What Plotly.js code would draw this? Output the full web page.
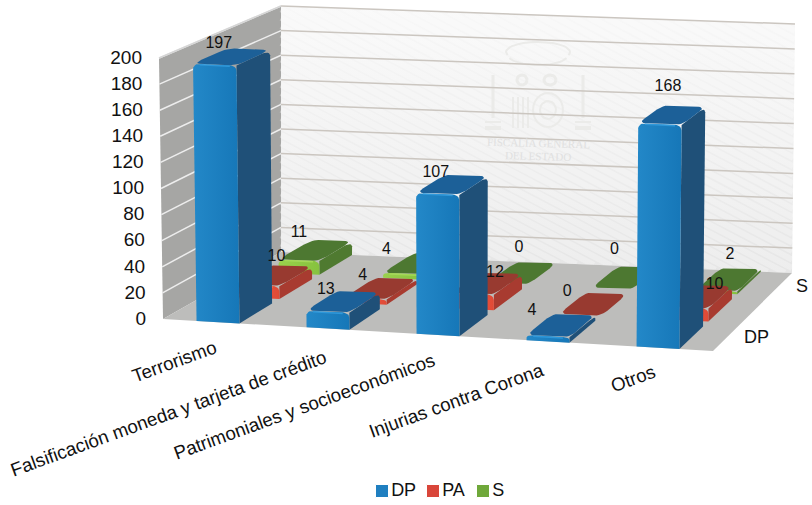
<!DOCTYPE html>
<html><head><meta charset="utf-8">
<script src="https://cdn.plot.ly/plotly-3.0.1.min.js"></script>
<style>html,body{margin:0;padding:0;background:#fff}#c{width:812px;height:505px}</style>
</head><body><div id="c"></div>
<script>
const categories=["Terrorismo","Falsificación moneda y tarjeta de crédito","Patrimoniales y socioeconómicos","Injurias contra Corona","Otros"];
const DP=[197,13,107,4,168];
const PA=[10,4,12,0,10];
const S=[11,4,0,0,2];
const yTicks=[0,20,40,60,80,100,120,140,160,180,200];
const seriesNames=["DP","PA","S"];
const axisMax=200;

const box={fl0:[163,319],fl1:[159,58],bl0:[281,252],bl1:[281,6],fr0:[713,351],fr1:[716,84],br0:[792,273],br1:[795,24]};
function P(u,w,v){
  const lerp=(a,b,t)=>[a[0]+(b[0]-a[0])*t,a[1]+(b[1]-a[1])*t];
  const f0=lerp(box.fl0,box.fr0,u),f1=lerp(box.fl1,box.fr1,u),b0=lerp(box.bl0,box.br0,u),b1=lerp(box.bl1,box.br1,u);
  return lerp(lerp(f0,b0,w),lerp(f1,b1,w),v);
}
const traces=[];
function poly(pts,o){
  traces.push(Object.assign({type:'scatter',mode:'lines',x:pts.map(p=>p[0]),y:pts.map(p=>p[1]),fill:'toself',
    line:{width:0},hoverinfo:'skip',showlegend:false},o));
}
function line(a,b,color,width){
  traces.push({type:'scatter',mode:'lines',x:[a[0],b[0]],y:[a[1],b[1]],line:{color:color,width:width},hoverinfo:'skip',showlegend:false});
}
const g=(type,a,b)=>({fillgradient:{type:type,colorscale:[[0,a],[1,b]]}});
poly([P(0,0,0),P(0,1,0),P(0,1,1),P(0,0,1),P(0,0,0)],{fillcolor:'#a6a6a4'});
poly([P(0,1,0),P(1,1,0),P(1,1,1),P(0,1,1),P(0,1,0)],g('vertical','#e6e6e6','#f8f8f8'));

// faint diagonal texture of the back wall
(function(){
  const xs=[],ys=[];
  for(let c=-1;c<1;c+=0.034){
    const u0=Math.max(0,c),u1=Math.min(1,c+1);
    const a=P(u0,1,1-(u0-c)),b=P(u1,1,1-(u1-c));
    xs.push(a[0],b[0],null);ys.push(a[1],b[1],null);
  }
  traces.push({type:'scatter',mode:'lines',x:xs,y:ys,line:{color:'rgba(255,255,255,0.3)',width:6},hoverinfo:'skip',showlegend:false});
})();

// faint emblem watermark
function ring(cx,cy,rx,ry,a0,a1,col,wd){
  const x=[],y=[];
  for(let i=0;i<=24;i++){const a=a0+(a1-a0)*i/24;x.push(cx+rx*Math.cos(a));y.push(cy+ry*Math.sin(a));}
  traces.push({type:'scatter',mode:'lines',x:x,y:y,line:{color:col,width:wd},hoverinfo:'skip',showlegend:false});
}
const wm='#ebebe9';
ring(538,52,32,10,Math.PI*0.9,Math.PI*2.1,wm,2);
ring(538,55,30,10,Math.PI*0.1,Math.PI*0.9,wm,2);
ring(522,80,5,5,0,Math.PI*2,wm,3);
ring(550,80,6,5,0,Math.PI*2,wm,3);
ring(548,110,15,17,0,Math.PI*2,wm,2);
ring(548,110,8,9,0,Math.PI*2,wm,2);
[513,518,523,528].forEach(x=>line([x,97],[x,128],wm,2));
[493,583].forEach(x=>{line([x,75],[x,118],wm,3);line([x-8,128],[x+8,128],wm,4);line([x-8,122],[x+8,122],wm,2);});

poly([P(0,0,0),P(1,0,0),P(1,1,0),P(0,1,0),P(0,0,0)],{fillcolor:'#bdbdbb'});
yTicks.slice(1).forEach(t=>{
  const v=t/axisMax;
  line(P(0,0,v),P(0,1,v),'#ededed',1.5);
  line(P(0,1,v),P(1,1,v),'#cbc6c0',1.5);
});
line(P(0,0,1),P(0,1,1),'#d5d5d5',1.5);

const palette={
  DP:{front:['#2388c8','#1677b8'],side:'#1f5078',top:'#1c6098',edge:'#2f98da'},
  PA:{front:['#f4604a','#e04a36'],side:'#a83b30',top:'#983a30',edge:'#f46a50'},
  S:{front:['#9ad14c','#86c23e'],side:'#4f7a30',top:'#4d7831',edge:'#a4d858'}
};
const slotW=1/categories.length, barW=0.39*slotW, depthSlot=0.355, barD=0.29;
function arc(map,cx,cy,rx,ry,a0,a1,out){
  for(let i=0;i<=6;i++){const a=a0+(a1-a0)*i/6;out.push(map(cx+rx*Math.cos(a),cy+ry*Math.sin(a)));}
}
function drawBar(ci,si,val,pal){
  const uc=(ci+0.5)*slotW,u0=uc-barW/2,u1=uc+barW/2;
  const w0=si*depthSlot,w1=w0+barD,v=val/axisMax;
  const ru=0.012,rw=0.07,rv=Math.min(0.02,v/2);
  const H=Math.PI/2;
  let s=[];
  s.push(P(u1,w0,0),P(u1,w1,0));
  arc((w,vv)=>P(u1,w,vv),w1-rw,v-rv,rw,rv,0,H,s);
  s.push(P(u1,w0,v),P(u1,w0,0));
  poly(s,{fillcolor:pal.side});
  let t=[];
  const mt=(uu,w)=>P(uu,w,v);
  arc(mt,u0+ru,w0+rw,ru,rw,2*H,3*H,t);
  arc(mt,u1-ru,w0+rw,ru,rw,3*H,4*H,t);
  arc(mt,u1-ru,w1-rw,ru,rw,0,H,t);
  arc(mt,u0+ru,w1-rw,ru,rw,H,2*H,t);
  t.push(t[0]);
  poly(t,{fillcolor:pal.top});
  let f=[];
  f.push(P(u0,w0,0),P(u1,w0,0));
  const mf=(uu,vv)=>P(uu,w0,vv);
  arc(mf,u1-ru,v-rv,ru,rv,0,H,f);
  arc(mf,u0+ru,v-rv,ru,rv,H,2*H,f);
  f.push(f[0]);
  if(v>0) poly(f,g('horizontal',pal.front[0],pal.front[1]));
  if(v>0){const a=P(u0+ru,w0,v-0.004),b=P(u1-ru,w0,v-0.004);line(a,b,pal.edge,1.5);}
}
const series=[DP,PA,S];
for(let si=2;si>=0;si--){
  for(let ci=categories.length-1;ci>=0;ci--){
    drawBar(ci,si,series[si][ci],palette[seriesNames[si]]);
  }
}
const labelNudge=[
 [[4,-21],[-2,-22],[-2,-21],[-16,-25],[8,-37]],
 [[18,-28],[-3,-23],[22,-21],[-13,-23],[27,-22]],
 [[0,-27],[-17,-24],[11,-36],[2,-38],[13,-36]]
];
const lx=[],ly=[],lt=[];
series.forEach((vals,si)=>vals.forEach((val,ci)=>{
  const p=P((ci+0.5)*slotW,si*depthSlot,val/axisMax);
  lx.push(p[0]+labelNudge[si][ci][0]);ly.push(p[1]+labelNudge[si][ci][1]);lt.push(String(val));
}));
traces.push({type:'scatter',mode:'text',x:lx,y:ly,text:lt,textposition:'middle center',textfont:{family:'Liberation Sans',size:16,color:'#111'},hoverinfo:'skip',showlegend:false,cliponaxis:false});
const tp=yTicks.map(t=>P(0,0,t/axisMax));
traces.push({type:'scatter',mode:'text',x:tp.map(p=>p[0]-17),y:tp.map(p=>p[1]+1),text:yTicks.map(String),textposition:'middle left',textfont:{family:'Liberation Sans',size:19,color:'#111'},hoverinfo:'skip',showlegend:false,cliponaxis:false});
const legColors=['#1f7fc0','#d9463a','#6fa83a'];
const legX=[382,433,483];
traces.push({type:'scatter',mode:'markers+text',x:legX,y:[491,491,491],text:seriesNames,textposition:'middle right',
  marker:{symbol:'square',size:13,color:legColors,line:{width:1,color:'#ffffff'}},textfont:{family:'Liberation Sans',size:18,color:'#111'},hoverinfo:'skip',showlegend:false,cliponaxis:false});

const catCenter=[[174,361],[168,413],[304,406],[456,400],[633,378]];
const annotations=categories.map((c,i)=>({x:catCenter[i][0],y:catCenter[i][1],text:c,showarrow:false,textangle:-20,xanchor:'center',yanchor:'middle',font:{family:'Liberation Sans',size:18.7,color:'#111'}}));
annotations.push({x:802,y:286,text:'S',showarrow:false,font:{family:'Liberation Sans',size:18,color:'#111'}});
annotations.push({x:756,y:337,text:'DP',showarrow:false,font:{family:'Liberation Sans',size:18,color:'#111'}});
annotations.push({x:538,y:143,text:'FISCALÍA GENERAL',showarrow:false,textangle:1.5,font:{family:'Liberation Serif',size:11,color:'#e0e0e0'}});
annotations.push({x:538,y:156,text:'DEL ESTADO',showarrow:false,textangle:1.5,font:{family:'Liberation Serif',size:11,color:'#e0e0e0'}});

Plotly.newPlot('c',traces,{
  width:812,height:505,margin:{l:0,r:0,t:0,b:0},paper_bgcolor:'#fff',plot_bgcolor:'#fff',showlegend:false,
  xaxis:{range:[0,812],visible:false,fixedrange:true},
  yaxis:{range:[505,0],visible:false,fixedrange:true},
  annotations:annotations
},{displayModeBar:false,staticPlot:true});
</script></body></html>
